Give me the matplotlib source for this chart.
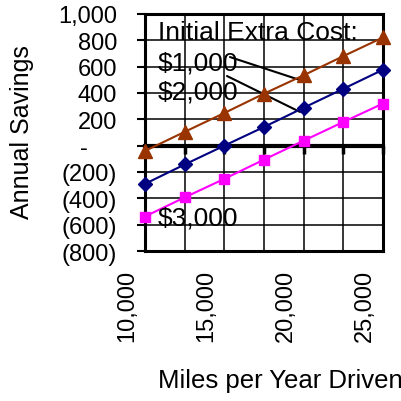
"""Annual savings vs. miles driven for three initial extra costs."""

import matplotlib
matplotlib.use("Agg")
import matplotlib.pyplot as plt
import matplotlib.transforms as mtransforms

plt.rcParams["font.family"] = ["Liberation Sans", "DejaVu Sans"]

miles = [10000, 12500, 15000, 17500, 20000, 22500, 25000]
cost_1000 = [-40, 105, 248, 395, 535, 680, 822]
cost_2000 = [-290, -143, 0, 142, 288, 432, 577]
cost_3000 = [-538, -393, -252, -106, 38, 180, 320]

x_labels = [10000, 15000, 20000, 25000]
y_ticks = [-800, -600, -400, -200, 0, 200, 400, 600, 800, 1000]


def accounting(v):
    if v == 0:
        return "-"
    if v < 0:
        return f"({-v:,})"
    return f"{v:,}"


fig = plt.figure(figsize=(4.01, 4.02), dpi=100)
ax = fig.add_axes([145 / 401, 1 - 252 / 402, 238 / 401, 237 / 402])

ax.plot(miles, cost_1000, color="#993300", lw=1.5, marker="^", ms=9.5,
        mec="#993300", mfc="#993300", zorder=4, clip_on=False)
ax.plot(miles, cost_2000, color="#000080", lw=1.5, marker="D", ms=7.5,
        mec="#000080", mfc="#000080", zorder=4, clip_on=False)
ax.plot(miles, cost_3000, color="#FF00FF", lw=1.5, marker="s", ms=7.5,
        mec="#FF00FF", mfc="#FF00FF", zorder=4, clip_on=False)

ax.set_xlim(10000, 25000)
ax.set_ylim(-800, 1000)

# grid every 2500 miles, labels every 5000
ax.set_xticks(x_labels)
ax.set_xticks([m for m in miles if m not in x_labels], minor=True)
ax.set_xticklabels([f"{v:,}" for v in x_labels], rotation=90, fontsize=17)
ax.tick_params(axis="x", which="both", length=0, pad=13)
ax.set_yticks(y_ticks)
ax.set_yticklabels([accounting(v) for v in y_ticks], fontsize=17)
ax.tick_params(axis="y", direction="out", length=6, width=1.5, pad=14)
ax.grid(True, which="both", color="black", lw=1.1, zorder=1)

for lbl in ax.get_xticklabels():
    lbl.set_transform(lbl.get_transform()
                      + mtransforms.ScaledTranslation(-0.18, 0, fig.dpi_scale_trans))
for v, lbl in zip(y_ticks, ax.get_yticklabels()):
    if v == 0:
        lbl.set_transform(lbl.get_transform()
                          + mtransforms.ScaledTranslation(-0.29, 0, fig.dpi_scale_trans))

for s in ax.spines.values():
    s.set_linewidth(2.2)

# heavy zero line with tick marks
zero = ax.secondary_xaxis(800 / 1800)
zero.set_xticks(miles)
zero.set_xticklabels([])
zero.tick_params(direction="out", length=6, width=2.5)
zero.spines["bottom"].set_linewidth(3)

ax.set_ylabel("Annual Savings", fontsize=18)
ax.yaxis.set_label_coords(-0.517, 0.506)
ax.yaxis.label.set_va("center")
ax.set_xlabel("Miles per Year Driven", fontsize=18.5)
ax.xaxis.set_label_coords(0.567, -0.544)
ax.xaxis.label.set_va("center")

ax.text(10819, 810, "Initial Extra Cost:", fontsize=19, va="baseline", zorder=5)
ax.text(10819, 582, "$1,000", fontsize=19, va="baseline", zorder=5)
ax.text(10819, 355, "$2,000", fontsize=19, va="baseline", zorder=5)
ax.text(10819, -602, "$3,000", fontsize=19, va="baseline", zorder=5)

line = dict(arrowstyle="-", color="black", lw=1.5, shrinkA=0, shrinkB=0)
ax.annotate("", xy=(19959, 491), xytext=(15357, 673), arrowprops=line)
ax.annotate("", xy=(19770, 256), xytext=(15168, 529), arrowprops=line)

fig.savefig("out.png", dpi=100)
